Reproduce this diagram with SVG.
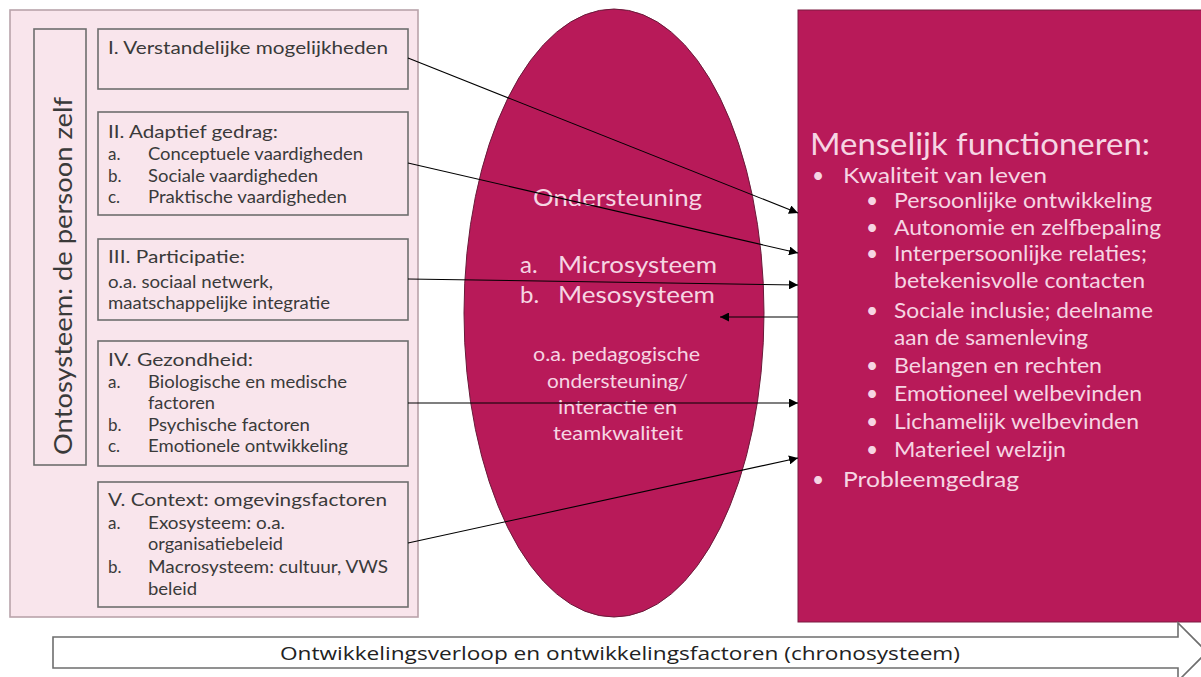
<svg xmlns="http://www.w3.org/2000/svg" width="1201" height="677" viewBox="0 0 1201 677">
<defs>
<style>
.lt{font-family:Lato,"Open Sans","Liberation Sans",sans-serif;fill:#3a3a3a}
.t16{font-size:18px}
.t15{font-size:17px}
.wt{font-family:Lato,"Open Sans","Liberation Sans",sans-serif;fill:#f6d5e3}
.box{fill:#f9e5ec;stroke:#6e6e6e;stroke-width:1.6}
.con{stroke:#000;stroke-width:1.1;fill:none;marker-end:url(#ah)}
</style>
<marker id="ah" viewBox="0 0 10 10" refX="10" refY="5" markerWidth="9" markerHeight="9" markerUnits="userSpaceOnUse" orient="auto">
<path d="M0,0 L10,5 L0,10 z" fill="#000"/>
</marker>
</defs>
<rect width="1201" height="677" fill="#fff"/>

<g id="ontosysteem">
<rect x="10" y="10" width="408" height="607" fill="#f9e5ec" stroke="#b9a3ab" stroke-width="1.6"/>
<rect x="34" y="29" width="52" height="436" class="box"/>
<text class="lt" font-size="25" transform="translate(72,276) rotate(-90)" text-anchor="middle" textLength="358" lengthAdjust="spacingAndGlyphs">Ontosysteem: de persoon zelf</text>
</g>

<g id="box1">
<rect x="98" y="29" width="310" height="60" class="box"/>
<text class="lt t16" x="108" y="54" textLength="280" lengthAdjust="spacingAndGlyphs">I. Verstandelijke mogelijkheden</text>
</g>

<g id="box2">
<rect x="98" y="112" width="310" height="103" class="box"/>
<text class="lt t16" x="108" y="138" textLength="170" lengthAdjust="spacingAndGlyphs">II. Adaptief gedrag:</text>
<text class="lt t15" x="108" y="160">a.</text><text class="lt t15" x="148" y="160" textLength="215" lengthAdjust="spacingAndGlyphs">Conceptuele vaardigheden</text>
<text class="lt t15" x="108" y="182">b.</text><text class="lt t15" x="148" y="182" textLength="170" lengthAdjust="spacingAndGlyphs">Sociale vaardigheden</text>
<text class="lt t15" x="108" y="203">c.</text><text class="lt t15" x="148" y="203" textLength="199" lengthAdjust="spacingAndGlyphs">Praktische vaardigheden</text>
</g>

<g id="box3">
<rect x="98" y="239" width="310" height="81" class="box"/>
<text class="lt t16" x="108" y="263" textLength="137" lengthAdjust="spacingAndGlyphs">III. Participatie:</text>
<text class="lt t15" x="108" y="288" textLength="165" lengthAdjust="spacingAndGlyphs">o.a. sociaal netwerk,</text>
<text class="lt t15" x="108" y="309" textLength="222" lengthAdjust="spacingAndGlyphs">maatschappelijke integratie</text>
</g>

<g id="box4">
<rect x="98" y="341" width="310" height="125" class="box"/>
<text class="lt t16" x="108" y="366" textLength="145" lengthAdjust="spacingAndGlyphs">IV. Gezondheid:</text>
<text class="lt t15" x="108" y="388">a.</text><text class="lt t15" x="148" y="388" textLength="199" lengthAdjust="spacingAndGlyphs">Biologische en medische</text>
<text class="lt t15" x="148" y="409" textLength="67" lengthAdjust="spacingAndGlyphs">factoren</text>
<text class="lt t15" x="108" y="431">b.</text><text class="lt t15" x="148" y="431" textLength="162" lengthAdjust="spacingAndGlyphs">Psychische factoren</text>
<text class="lt t15" x="108" y="452">c.</text><text class="lt t15" x="148" y="452" textLength="200" lengthAdjust="spacingAndGlyphs">Emotionele ontwikkeling</text>
</g>

<g id="box5">
<rect x="98" y="482" width="310" height="125" class="box"/>
<text class="lt t16" x="108" y="506" textLength="279" lengthAdjust="spacingAndGlyphs">V. Context: omgevingsfactoren</text>
<text class="lt t15" x="108" y="529">a.</text><text class="lt t15" x="148" y="529" textLength="137" lengthAdjust="spacingAndGlyphs">Exosysteem: o.a.</text>
<text class="lt t15" x="148" y="550" textLength="135" lengthAdjust="spacingAndGlyphs">organisatiebeleid</text>
<text class="lt t15" x="108" y="573">b.</text><text class="lt t15" x="148" y="573" textLength="240" lengthAdjust="spacingAndGlyphs">Macrosysteem: cultuur, VWS</text>
<text class="lt t15" x="148" y="595" textLength="49" lengthAdjust="spacingAndGlyphs">beleid</text>
</g>

<g id="ondersteuning">
<ellipse cx="614" cy="313" rx="150" ry="304" fill="#b81a59" stroke="#6a1a3a" stroke-width="1"/>
<text class="wt" font-size="23" x="533" y="206" textLength="169" lengthAdjust="spacingAndGlyphs">Ondersteuning</text>
<text class="wt" font-size="24" x="520" y="273">a.</text><text class="wt" font-size="24" x="558" y="273" textLength="159" lengthAdjust="spacingAndGlyphs">Microsysteem</text>
<text class="wt" font-size="24" x="520" y="303">b.</text><text class="wt" font-size="24" x="558" y="303" textLength="157" lengthAdjust="spacingAndGlyphs">Mesosysteem</text>
<text class="wt" font-size="19" x="533" y="361" textLength="167" lengthAdjust="spacingAndGlyphs">o.a. pedagogische</text>
<text class="wt" font-size="19" x="547" y="388" textLength="141" lengthAdjust="spacingAndGlyphs">ondersteuning/</text>
<text class="wt" font-size="19" x="558" y="414" textLength="119" lengthAdjust="spacingAndGlyphs">interactie en</text>
<text class="wt" font-size="19" x="553" y="440" textLength="130" lengthAdjust="spacingAndGlyphs">teamkwaliteit</text>
</g>

<g id="functioneren">
<rect x="798" y="10" width="410" height="612" fill="#b81a59" stroke="#7a1a40" stroke-width="1"/>
<text class="wt" font-size="30" x="810" y="155" textLength="340" lengthAdjust="spacingAndGlyphs">Menselijk functioneren:</text>
<text class="wt" font-size="21" x="812" y="183">•</text><text class="wt" font-size="22" x="843" y="183" textLength="204" lengthAdjust="spacingAndGlyphs">Kwaliteit van leven</text>
<g font-size="21">
<text class="wt" x="866" y="208">•</text><text class="wt" x="894" y="208" textLength="258" lengthAdjust="spacingAndGlyphs">Persoonlijke ontwikkeling</text>
<text class="wt" x="866" y="235">•</text><text class="wt" x="894" y="235" textLength="267" lengthAdjust="spacingAndGlyphs">Autonomie en zelfbepaling</text>
<text class="wt" x="866" y="261">•</text><text class="wt" x="894" y="261" textLength="253" lengthAdjust="spacingAndGlyphs">Interpersoonlijke relaties;</text>
<text class="wt" x="894" y="288" textLength="251" lengthAdjust="spacingAndGlyphs">betekenisvolle contacten</text>
<text class="wt" x="866" y="318">•</text><text class="wt" x="894" y="318" textLength="259" lengthAdjust="spacingAndGlyphs">Sociale inclusie; deelname</text>
<text class="wt" x="894" y="345" textLength="194" lengthAdjust="spacingAndGlyphs">aan de samenleving</text>
<text class="wt" x="866" y="373">•</text><text class="wt" x="894" y="373" textLength="208" lengthAdjust="spacingAndGlyphs">Belangen en rechten</text>
<text class="wt" x="866" y="401">•</text><text class="wt" x="894" y="401" textLength="248" lengthAdjust="spacingAndGlyphs">Emotioneel welbevinden</text>
<text class="wt" x="866" y="429">•</text><text class="wt" x="894" y="429" textLength="245" lengthAdjust="spacingAndGlyphs">Lichamelijk welbevinden</text>
<text class="wt" x="866" y="457">•</text><text class="wt" x="894" y="457" textLength="172" lengthAdjust="spacingAndGlyphs">Materieel welzijn</text>
</g>
<text class="wt" font-size="21" x="812" y="487">•</text><text class="wt" font-size="22" x="843" y="487" textLength="176" lengthAdjust="spacingAndGlyphs">Probleemgedrag</text>
</g>

<g id="chronosysteem">
<path d="M53,637 H1178 V623 L1207,652 L1178,681 V668 H53 Z" fill="#fff" stroke="#6e6e6e" stroke-width="1.6"/>
<text x="620" y="660" font-family="'Open Sans','Liberation Sans',sans-serif" font-size="19" fill="#222" text-anchor="middle" textLength="680" lengthAdjust="spacingAndGlyphs">Ontwikkelingsverloop en ontwikkelingsfactoren (chronosysteem)</text>
</g>

<g id="connectors">
<path class="con" d="M408,58 L798,213"/>
<path class="con" d="M408,163 L798,253"/>
<path class="con" d="M408,279 L798,285"/>
<path class="con" d="M798,317 L720,317"/>
<path class="con" d="M408,403 L798,403"/>
<path class="con" d="M408,543 L798,458"/>
</g>
</svg>
